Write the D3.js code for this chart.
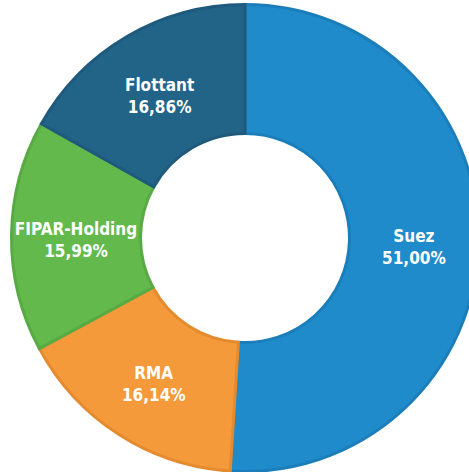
<!DOCTYPE html>
<html>
<head>
<meta charset="utf-8">
<script src="https://cdn.jsdelivr.net/npm/d3@7"></script>
<style>
  body { margin: 0; background: #fff; }
  .lbl { font-family: "DejaVu Sans Condensed", "DejaVu Sans", sans-serif; font-weight: bold; fill: #fff; }
</style>
</head>
<body>
<script>
//Donut chart of shareholders

var svgwidth = 469;
var svgheight = 472;

//Data
var names = ["Suez", "RMA", "FIPAR-Holding", "Flottant"];
var shares = [51.00, 16.14, 15.99, 16.86];
var colors = ["#1f8bcb", "#f49a3b", "#63b94c", "#226488"];
var strokes = ["#1b7eba", "#e48b30", "#57aa44", "#1f5a7d"];

var cx = 245, cy = 238;
var outerR = 235, innerR = 103;

var svg = d3.select("body")
            .append("svg")
            .attr("width", svgwidth)
            .attr("height", svgheight);

var chartGroup = svg.append("g")
                .attr("transform", `translate(${cx}, ${cy})`);

var pie = d3.pie().sort(null).value(d => d);
var arcs = pie(shares);

var arc = d3.arc().innerRadius(innerR + 1.5).outerRadius(outerR - 1.5);
var labelArc = d3.arc().innerRadius(innerR).outerRadius(outerR);

chartGroup.selectAll("path")
    .data(arcs)
    .enter()
    .append("path")
    .attr("d", arc)
    .attr("fill", (d, i) => colors[i])
    .attr("stroke", (d, i) => strokes[i])
    .attr("stroke-width", 3)
    .attr("stroke-linejoin", "miter");

var labels = chartGroup.selectAll("text")
    .data(arcs)
    .enter()
    .append("text")
    .attr("class", "lbl")
    .attr("text-anchor", "middle")
    .attr("font-size", "17px")
    .attr("transform", d => `translate(${labelArc.centroid(d)})`);

labels.append("tspan")
    .attr("x", 0)
    .attr("y", -1)
    .text((d, i) => names[i]);

labels.append("tspan")
    .attr("x", 0)
    .attr("y", 21)
    .text(d => d.value.toFixed(2).replace(".", ",") + "%");
</script>
</body>
</html>
